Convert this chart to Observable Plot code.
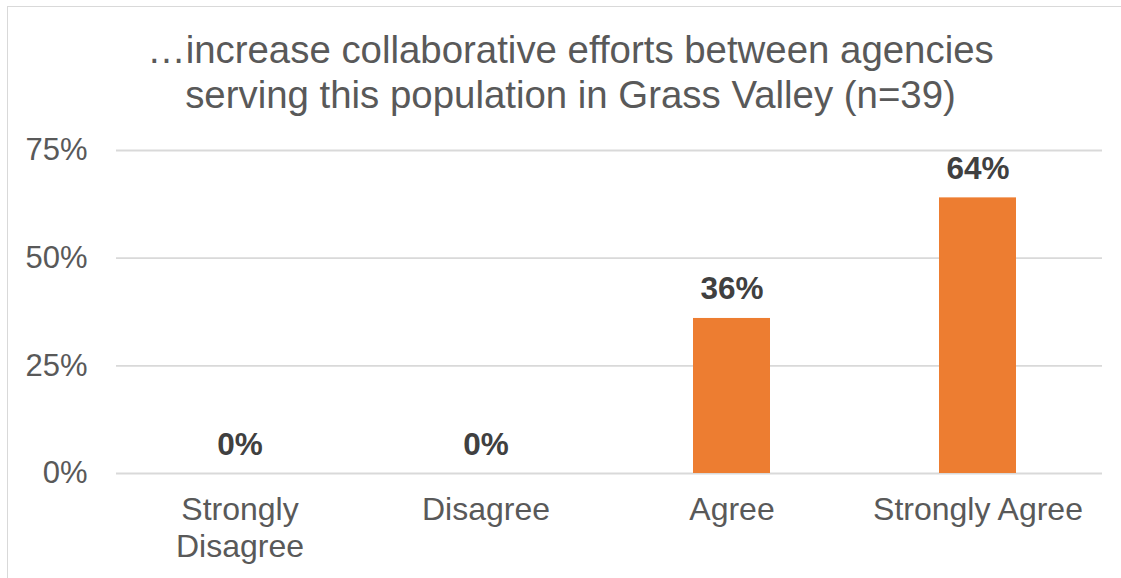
<!DOCTYPE html>
<html>
<head>
<meta charset="utf-8">
<script src="https://cdn.jsdelivr.net/npm/d3@7"></script>
<script src="https://cdn.jsdelivr.net/npm/@observablehq/plot@0.6"></script>
<style>
  html, body { margin: 0; padding: 0; background: #fff; overflow: hidden; }
  body { width: 1121px; height: 578px; position: relative; font-family: "Liberation Sans", Arial, sans-serif; }
  #frame { position: absolute; left: 7px; top: 6px; width: 1130px; height: 600px; border: 1.5px solid #d9d9d9; box-sizing: border-box; }
  #title { position: absolute; left: 0; top: 27px; width: 1141px; text-align: center; font-size: 38.4px; line-height: 45px; color: #595959; }
  #chart { position: absolute; left: 0; top: 120px; }
</style>
</head>
<body>
<div id="frame"></div>
<div id="title">…increase collaborative efforts between agencies<br>serving this population in Grass Valley (n=39)</div>
<div id="chart"></div>
<script>
const categories = ["Strongly\nDisagree", "Disagree", "Agree", "Strongly Agree"];
const values = [0, 0, 0.36, 0.64];
const yTicks = [0, 0.25, 0.5, 0.75];
const yTickLabels = ["0%", "25%", "50%", "75%"];
const valueLabels = ["0%", "0%", "36%", "64%"];

const data = categories.map((c, i) => ({category: c, value: values[i], label: valueLabels[i]}));

const chart = Plot.plot({
  width: 1121,
  height: 458,
  marginTop: 30,
  marginBottom: 105,
  marginLeft: 116,
  marginRight: 19,
  style: {fontFamily: "'Liberation Sans', Arial, sans-serif", fontSize: "31px", color: "#595959", background: "transparent"},
  x: {domain: categories, paddingInner: 0.686, paddingOuter: 0.343, label: null},
  y: {domain: [0, 0.75], label: null},
  marks: [
    Plot.gridY(yTicks, {stroke: "#d9d9d9", strokeOpacity: 1, strokeWidth: 1.8}),
    Plot.axisY(yTicks, {tickSize: 0, tickPadding: 29, tickFormat: (d) => yTickLabels[yTicks.indexOf(d)], fontSize: 31, fill: "#595959", label: null}),
    Plot.axisX({tickSize: 0, tickPadding: 21, fontSize: 32, fill: "#595959", lineHeight: 1.14, label: null}),
    Plot.barY(data, {x: "category", y: "value", fill: "#ED7D31"}),
    Plot.text(data, {x: "category", y: "value", text: "label", dy: -19, lineAnchor: "bottom", fontWeight: "bold", fontSize: 31.5, fill: "#404040"})
  ]
});
document.getElementById("chart").appendChild(chart);
</script>
</body>
</html>
